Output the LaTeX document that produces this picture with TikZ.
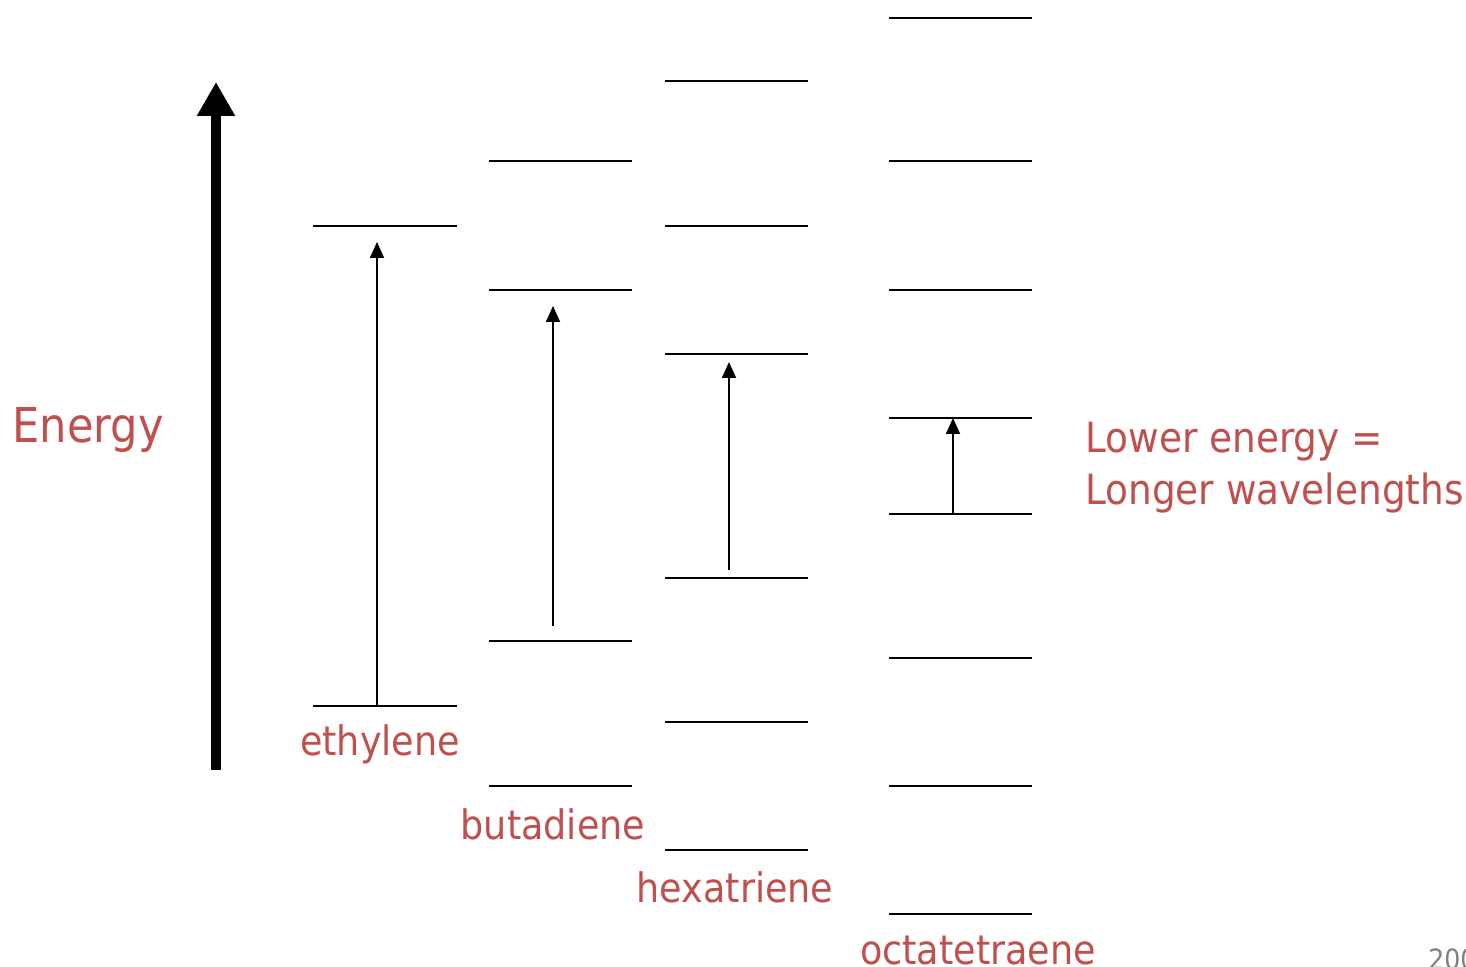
\documentclass[tikz,border=0pt]{standalone}
\usepackage{fontspec}
\setmainfont{DejaVu Sans Condensed}
\usetikzlibrary{arrows.meta}
\definecolor{labred}{RGB}{192,80,77}
\begin{document}
\begin{tikzpicture}[x=0.5pt,y=-0.5pt,
  level/.style={line width=1pt,black},
  trans/.style={line width=1pt,-{Triangle[width=7pt,length=8pt]}},
  lbl/.style={text=labred,font=\fontsize{20.3pt}{24pt}\selectfont,inner sep=0pt},
  big/.style={line width=5pt,-{Triangle[width=18pt,length=17pt]}}]
\useasboundingbox (0,0) rectangle (1466,967);
\clip (0,0) rectangle (1466,967);
% ethylene
\coordinate (e1a) at (313,706); \coordinate (e1b) at (457,706);
\coordinate (e2a) at (313,226); \coordinate (e2b) at (457,226);
\draw[level] (e1a) -- (e1b); \draw[level] (e2a) -- (e2b);
\coordinate (et0) at (377,706); \coordinate (et1) at (377,242);
\draw[trans] (et0) -- (et1);
% butadiene
\foreach \y [count=\i] in {161,290,641,786}{
  \coordinate (b\i a) at (489,\y); \coordinate (b\i b) at (632,\y);
  \draw[level] (b\i a) -- (b\i b);}
\coordinate (bt0) at (553,626); \coordinate (bt1) at (553,306);
\draw[trans] (bt0) -- (bt1);
% hexatriene
\foreach \y [count=\i] in {81,226,354,578,722,850}{
  \coordinate (h\i a) at (665,\y); \coordinate (h\i b) at (808,\y);
  \draw[level] (h\i a) -- (h\i b);}
\coordinate (ht0) at (729,570); \coordinate (ht1) at (729,362);
\draw[trans] (ht0) -- (ht1);
% octatetraene
\foreach \y [count=\i] in {18,161,290,418,514,658,786,914}{
  \coordinate (o\i a) at (889,\y); \coordinate (o\i b) at (1032,\y);
  \draw[level] (o\i a) -- (o\i b);}
\coordinate (ot0) at (953,514); \coordinate (ot1) at (953,418);
\draw[trans] (ot0) -- (ot1);
% energy axis
\coordinate (ax0) at (216,770); \coordinate (ax1) at (216,82);
\draw[big] (ax0) -- (ax1);
\node[lbl,font=\fontsize{24pt}{28pt}\selectfont] (energy) at (88,430) {Energy};
% labels
\node[lbl] (eth) at (380,744) {ethylene};
\node[lbl] (but) at (553,824) {butadiene};
\node[lbl] (hex) at (735,887) {hexatriene};
\node[lbl] (oct) at (978,951) {octatetraene};
\node[lbl,anchor=west,font=\fontsize{20.8pt}{24pt}\selectfont] (low1) at (1085,442) {Lower energy =};
\node[lbl,anchor=west,font=\fontsize{20.8pt}{24pt}\selectfont] (low2) at (1085,493) {Longer wavelengths};
\node[text=gray,font=\fontsize{14pt}{16pt}\selectfont,anchor=north west,inner sep=0pt] (pg) at (1428,948) {2006};
\end{tikzpicture}
\end{document}
